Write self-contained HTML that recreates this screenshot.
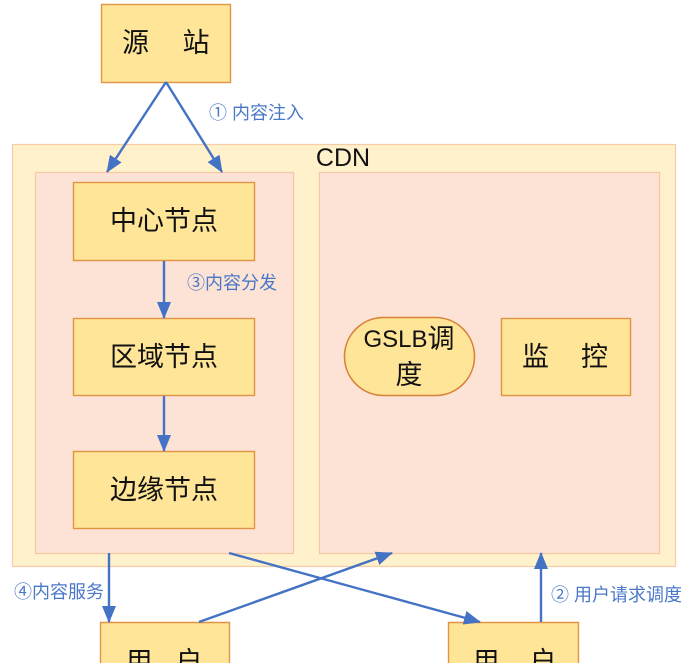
<!DOCTYPE html>
<html><head><meta charset="utf-8">
<style>
html,body{margin:0;padding:0;background:#fff;width:686px;height:663px;overflow:hidden;}
svg{display:block;}
text{font-family:"Liberation Sans","Noto Sans CJK SC",sans-serif;}
.lbl{font-size:27px;fill:#111;}
.blue{font-size:18px;fill:#4A78C8;}
</style></head>
<body>
<svg width="686" height="663" viewBox="0 0 686 663" xmlns="http://www.w3.org/2000/svg">
<defs>
<marker id="ah" markerUnits="userSpaceOnUse" markerWidth="17" markerHeight="14" refX="16" refY="7" orient="auto">
<path d="M0,0 L17,7 L0,14 z" fill="#4472C4"/>
</marker>
</defs>
<!-- CDN outer -->
<rect x="12.5" y="144.5" width="663" height="422" fill="#FFF1CB" stroke="#F7CBA6" stroke-width="1.2"/>
<text x="343" y="158" text-anchor="middle" dominant-baseline="central" style="font-size:25px;fill:#111">CDN</text>
<!-- inner pinks -->
<rect x="35.5" y="172.5" width="258" height="381" fill="#FCE3D6" stroke="#F7C7A3" stroke-width="1.2"/>
<rect x="319.5" y="172.5" width="340" height="381" fill="#FCE3D6" stroke="#F7C7A3" stroke-width="1.2"/>

<!-- source -->
<rect x="101.5" y="4.5" width="129" height="78" fill="#FFE598" stroke="#E29445" stroke-width="1.4"/>
<text class="lbl" x="135.5" y="43" text-anchor="middle" dominant-baseline="central">源</text>
<text class="lbl" x="196" y="43" text-anchor="middle" dominant-baseline="central">站</text>

<!-- nodes -->
<rect x="73.5" y="182.5" width="181" height="78" fill="#FFE598" stroke="#E29445" stroke-width="1.4"/>
<text class="lbl" x="164" y="221" text-anchor="middle" dominant-baseline="central">中心节点</text>
<rect x="73.5" y="318.5" width="181" height="77" fill="#FFE598" stroke="#E29445" stroke-width="1.4"/>
<text class="lbl" x="164" y="357" text-anchor="middle" dominant-baseline="central">区域节点</text>
<rect x="73.5" y="451.5" width="181" height="77" fill="#FFE598" stroke="#E29445" stroke-width="1.4"/>
<text class="lbl" x="164" y="490" text-anchor="middle" dominant-baseline="central">边缘节点</text>

<!-- GSLB -->
<rect x="344.5" y="317.5" width="130" height="78" rx="39" ry="39" fill="#FFE598" stroke="#D9823A" stroke-width="1.6"/>
<text x="409" y="339" text-anchor="middle" dominant-baseline="central" style="font-size:27px;fill:#111"><tspan style="font-size:24px">GSLB</tspan>调</text>
<text class="lbl" x="409" y="375" text-anchor="middle" dominant-baseline="central">度</text>
<!-- monitor -->
<rect x="501.5" y="318.5" width="129" height="77" fill="#FFE598" stroke="#E29445" stroke-width="1.4"/>
<text class="lbl" x="535.5" y="357" text-anchor="middle" dominant-baseline="central">监</text>
<text class="lbl" x="594.5" y="357" text-anchor="middle" dominant-baseline="central">控</text>

<!-- users (clipped at bottom edge) -->
<svg x="99" y="621" width="133" height="42" overflow="hidden">
<path d="M1.5,44 L1.5,1.5 L130.5,1.5 L130.5,44" fill="#FFE598" stroke="#E29445" stroke-width="1.4"/>
<text class="lbl" x="40" y="41" text-anchor="middle" dominant-baseline="central">用</text>
<text class="lbl" x="90" y="41" text-anchor="middle" dominant-baseline="central">户</text>
</svg>
<svg x="447" y="621" width="134" height="42" overflow="hidden">
<path d="M1.5,44 L1.5,1.5 L131.5,1.5 L131.5,44" fill="#FFE598" stroke="#E29445" stroke-width="1.4"/>
<text class="lbl" x="39" y="41" text-anchor="middle" dominant-baseline="central">用</text>
<text class="lbl" x="96" y="41" text-anchor="middle" dominant-baseline="central">户</text>
</svg>

<!-- arrows -->
<g stroke="#4472C4" stroke-width="2.4" fill="none">
<line x1="166" y1="82" x2="107" y2="172" marker-end="url(#ah)"/>
<line x1="166" y1="82" x2="222" y2="172" marker-end="url(#ah)"/>
<line x1="164" y1="261" x2="164" y2="318" marker-end="url(#ah)"/>
<line x1="164" y1="396" x2="164" y2="451" marker-end="url(#ah)"/>
<line x1="109" y1="553" x2="109" y2="622" marker-end="url(#ah)"/>
<line x1="199" y1="622" x2="392" y2="553" marker-end="url(#ah)"/>
<line x1="229" y1="553" x2="480" y2="622" marker-end="url(#ah)"/>
<line x1="541" y1="622" x2="541" y2="553" marker-end="url(#ah)"/>
</g>

<!-- labels -->
<text class="blue" x="209" y="113" dominant-baseline="central">① 内容注入</text>
<text class="blue" x="187" y="283" dominant-baseline="central">③内容分发</text>
<text class="blue" x="14" y="592" dominant-baseline="central">④内容服务</text>
<text class="blue" x="551" y="595" dominant-baseline="central">② 用户请求调度</text>
</svg>
</body></html>
